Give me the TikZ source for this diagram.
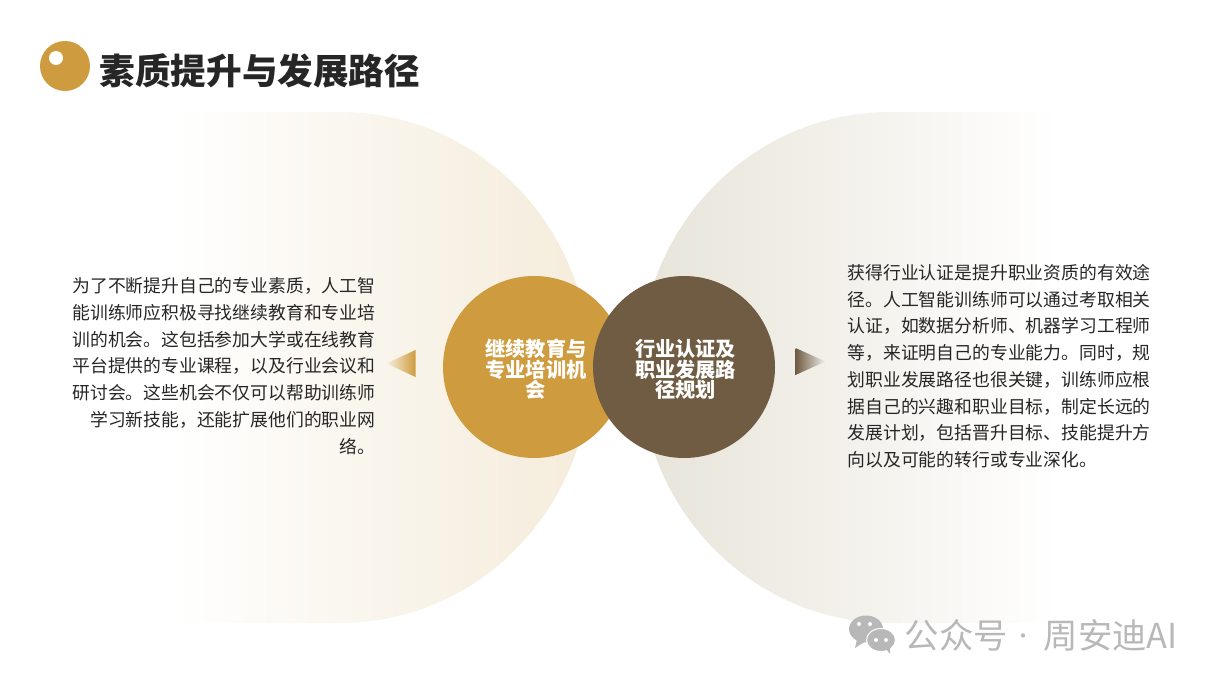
\documentclass[tikz,border=0pt]{standalone}
\usepackage{fontspec}
\setmainfont{Noto Sans CJK SC}
\definecolor{gold}{HTML}{CE9C3E}
\definecolor{umber}{HTML}{6F5C42}
\definecolor{ink}{HTML}{262626}
\definecolor{wm}{HTML}{B8B8B8}
\definecolor{paleL}{HTML}{F5ECDB}
\definecolor{midL}{HTML}{F9F5EC}
\definecolor{paleR}{HTML}{E8E4DA}
\definecolor{midR}{HTML}{F3F1EB}
\begin{document}
\begin{tikzpicture}[x=1pt,y=-1pt,
  body/.style={font=\fontsize{17.82}{20}\selectfont,text=ink,inner sep=0pt},
  lab/.style={font=\fontsize{20.2}{20.6}\selectfont\bfseries,text=white,align=center,inner sep=0pt},
  wmtext/.style={font=\fontsize{34.4}{36}\selectfont,text=wm,inner sep=0pt,anchor=west}]
\useasboundingbox (0,0) rectangle (1217,685);
% large fading shapes
\path[left color=white,right color=paleL,middle color=midL]
  (172,112) -- (340,112) arc[start angle=-90,end angle=90,x radius=250,y radius=255.5] -- (172,623) -- cycle;
\path[left color=paleR,right color=white,middle color=midR]
  (1058,112) -- (890,112) arc[start angle=270,end angle=90,x radius=250,y radius=255.5] -- (1058,623) -- cycle;
% title
\fill[gold] (65,66) circle[radius=25];
\fill[white] (56,58) circle[radius=7];
\node[font=\fontsize{35.6}{38}\selectfont\bfseries,text=ink,anchor=west,inner sep=0pt] (title) at (99.5,71) {素质提升与发展路径};
% circles
\node[circle,fill=gold,minimum size=182pt,inner sep=0pt] (c1) at (534,367) {};
\node[circle,fill=umber,minimum size=182pt,inner sep=0pt] (c2) at (684,367) {};
\node[lab] (l1) at (536,369.5) {继续教育与\\专业培训机\\会};
\node[lab] (l2) at (685.5,369.5) {行业认证及\\职业发展路\\径规划};
% arrows
\path[left color=gold!15!white,right color=gold] (386.5,363.5) -- (415.5,350) -- (415.5,377) -- cycle;
\path[left color=umber,right color=umber!10!white] (795.5,348) -- (825.5,361.5) -- (795.5,375) -- cycle;
% left text
\foreach \t [count=\i from 0] in {为了不断提升自己的专业素质，人工智,能训练师应积极寻找继续教育和专业培,训的机会。这包括参加大学或在线教育,平台提供的专业课程，以及行业会议和,研讨会。这些机会不仅可以帮助训练师,学习新技能，还能扩展他们的职业网,络。}
  \node[body,anchor=east] (left\i) at (375.5,286+26.7*\i) {\t};
% right text
\foreach \t [count=\i from 0] in {获得行业认证是提升职业资质的有效途,径。人工智能训练师可以通过考取相关,认证，如数据分析师、机器学习工程师,等，来证明自己的专业能力。同时，规,划职业发展路径也很关键，训练师应根,据自己的兴趣和职业目标，制定长远的,发展计划，包括晋升目标、技能提升方,向以及可能的转行或专业深化。}
  \node[body,anchor=west] (right\i) at (847.5,272.5+26.8*\i) {\t};
% watermark
\fill[wm] (866,629) ellipse[x radius=17,y radius=13.5];
\fill[wm] (857,639) -- (855,648) -- (866,641) -- cycle;
\fill[wm,draw=white,line width=1pt] (881,640) ellipse[x radius=14.5,y radius=11.5];
\fill[wm] (886,649) -- (890,654) -- (890,647) -- cycle;
\foreach \p in {(859,624),(870,624),(876,640),(886,640)} \fill[white] \p circle[radius=2];
\node[wmtext] (wm1) at (904.5,635.5) {公众号};
\node[font=\fontsize{20}{22}\selectfont,text=wm,inner sep=0pt] (wm2) at (1023,639) {·};
\node[wmtext] (wm3) at (1043.5,635.5) {周安迪AI};
\end{tikzpicture}
\end{document}
